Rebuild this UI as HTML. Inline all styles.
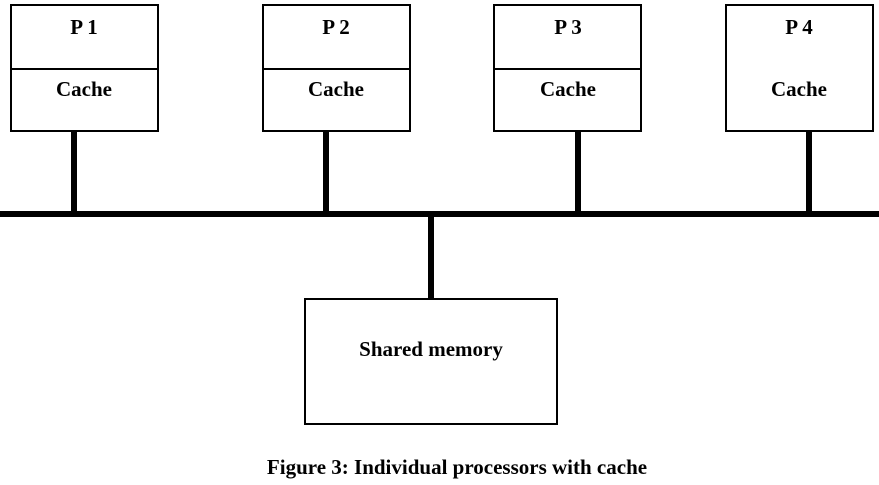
<!DOCTYPE html>
<html><head><style>
body{margin:0;width:879px;height:480px;background:#fff;overflow:hidden}
svg text{font-family:"Liberation Serif",serif;font-weight:bold;font-size:21px;fill:#000}
</style></head><body>
<svg width="879" height="480" xmlns="http://www.w3.org/2000/svg">
<g fill="none" stroke="#000" stroke-width="2">
<rect x="11" y="5" width="147" height="126"/><line x1="11" y1="69" x2="158" y2="69"/>
<rect x="263" y="5" width="147" height="126"/><line x1="263" y1="69" x2="410" y2="69"/>
<rect x="494" y="5" width="147" height="126"/><line x1="494" y1="69" x2="641" y2="69"/>
<rect x="726" y="5" width="147" height="126"/>
<rect x="305" y="299" width="252" height="125"/>
</g>
<g stroke="#000" stroke-width="6">
<line x1="0" y1="214" x2="879" y2="214"/>
<line x1="74" y1="131" x2="74" y2="214"/>
<line x1="326" y1="131" x2="326" y2="214"/>
<line x1="578" y1="131" x2="578" y2="214"/>
<line x1="809" y1="131" x2="809" y2="214"/>
<line x1="431" y1="214" x2="431" y2="299"/>
</g>
<g text-anchor="middle">
<text x="84" y="34">P 1</text><text x="84" y="96">Cache</text>
<text x="336" y="34">P 2</text><text x="336" y="96">Cache</text>
<text x="568" y="34">P 3</text><text x="568" y="96">Cache</text>
<text x="799" y="34">P 4</text><text x="799" y="96">Cache</text>
<text x="431" y="356">Shared memory</text>
<text x="457" y="474" style="font-size:21px">Figure 3: Individual processors with cache</text>
</g>
</svg>
</body></html>
